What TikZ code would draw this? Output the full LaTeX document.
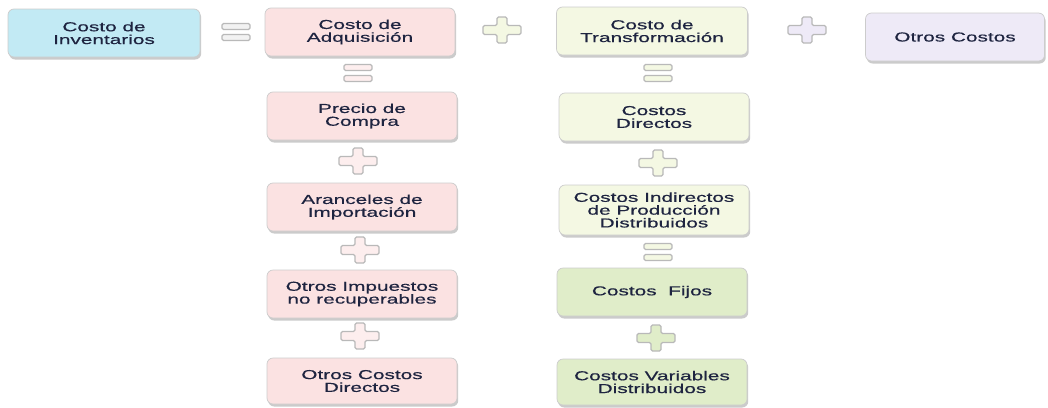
\documentclass[tikz,border=0pt]{standalone}
\usepackage{fontspec}
\usetikzlibrary{shadows}
\newfontfamily\boxfont[FakeStretch=1.6,FakeBold=0.5]{Liberation Sans}
\definecolor{textc}{HTML}{1E2440}
\definecolor{cyanf}{HTML}{C2EAF4}
\definecolor{pinkf}{HTML}{FBE2E2}
\definecolor{palef}{HTML}{F4F8E3}
\definecolor{greenf}{HTML}{E0EDC9}
\definecolor{lavf}{HTML}{EEEAF7}
\definecolor{symline}{HTML}{B9B9B9}
\tikzset{
  box/.style={rectangle, rounded corners=6pt, draw=black!20, line width=0.7pt,
    minimum width=190pt, minimum height=48pt, align=center, inner sep=2pt,
    font=\boxfont\fontsize{13}{12.8}\selectfont, text=textc,
    drop shadow={shadow xshift=1.2pt, shadow yshift=-2.5pt, fill=black!45, opacity=0.45}},
  plussign/.pic={\path[pic actions] (-19,-4.5) -- (-5,-4.5) -- (-5,-13) -- (5,-13) -- (5,-4.5)
     -- (19,-4.5) -- (19,4.5) -- (5,4.5) -- (5,13) -- (-5,13) -- (-5,4.5) -- (-19,4.5) -- cycle;},
  eqsign/.pic={\path[pic actions] (-14,-8.5) rectangle (14,-2.5);
     \path[pic actions] (-14,2.5) rectangle (14,8.5);},
  sym/.style={draw=symline, line width=1.3pt, rounded corners=1.5pt, fill=#1}
}
\begin{document}
\begin{tikzpicture}[x=1pt,y=-1pt]
\path[use as bounding box, fill=white] (0,0) rectangle (1048,407);

% top row
\node[box, fill=cyanf, minimum width=192pt] (inv) at (104,33) {Costo de\\Inventarios};
\node[box, fill=pinkf] (adq) at (360,32) {Costo de\\Adquisición};
\node[box, fill=palef, minimum width=191pt] (tra) at (652,31) {Costo de\\Transformación};
\node[box, fill=lavf, minimum width=179pt] (otr) at (955,37) {Otros Costos};

\pic[sym=white!90!gray] (eqA) at (236,32) {eqsign};
\pic[sym=palef] (plA) at (502,30) {plussign};
\pic[sym=lavf] (plB) at (807,30) {plussign};

% column 1
\pic[sym=pinkf!60!white] (eqB) at (358,73) {eqsign};
\node[box, fill=pinkf] (pre) at (362,116) {Precio de\\Compra};
\pic[sym=pinkf!60!white] (plC) at (358,161) {plussign};
\node[box, fill=pinkf] (ara) at (362,207) {Aranceles de\\Importación};
\pic[sym=pinkf!60!white] (plD) at (360,250) {plussign};
\node[box, fill=pinkf] (imp) at (362,294) {Otros Impuestos\\no recuperables};
\pic[sym=pinkf!60!white] (plE) at (360,336) {plussign};
\node[box, fill=pinkf, minimum height=46pt] (ocd) at (362,381) {Otros Costos\\Directos};

% column 2
\pic[sym=palef] (eqC) at (658,73) {eqsign};
\node[box, fill=palef] (cdi) at (654,117) {Costos\\Directos};
\pic[sym=palef] (plF) at (658,163) {plussign};
\node[box, fill=palef, minimum height=50pt] (cin) at (654,210) {Costos Indirectos\\de Producción\\Distribuidos};
\pic[sym=palef] (eqD) at (658,252) {eqsign};
\node[box, fill=greenf] (cfi) at (652,292) {Costos\ \ Fijos};
\pic[sym=greenf] (plG) at (656,338) {plussign};
\node[box, fill=greenf, minimum height=46pt] (cva) at (652,382) {Costos Variables\\Distribuidos};
\end{tikzpicture}
\end{document}
